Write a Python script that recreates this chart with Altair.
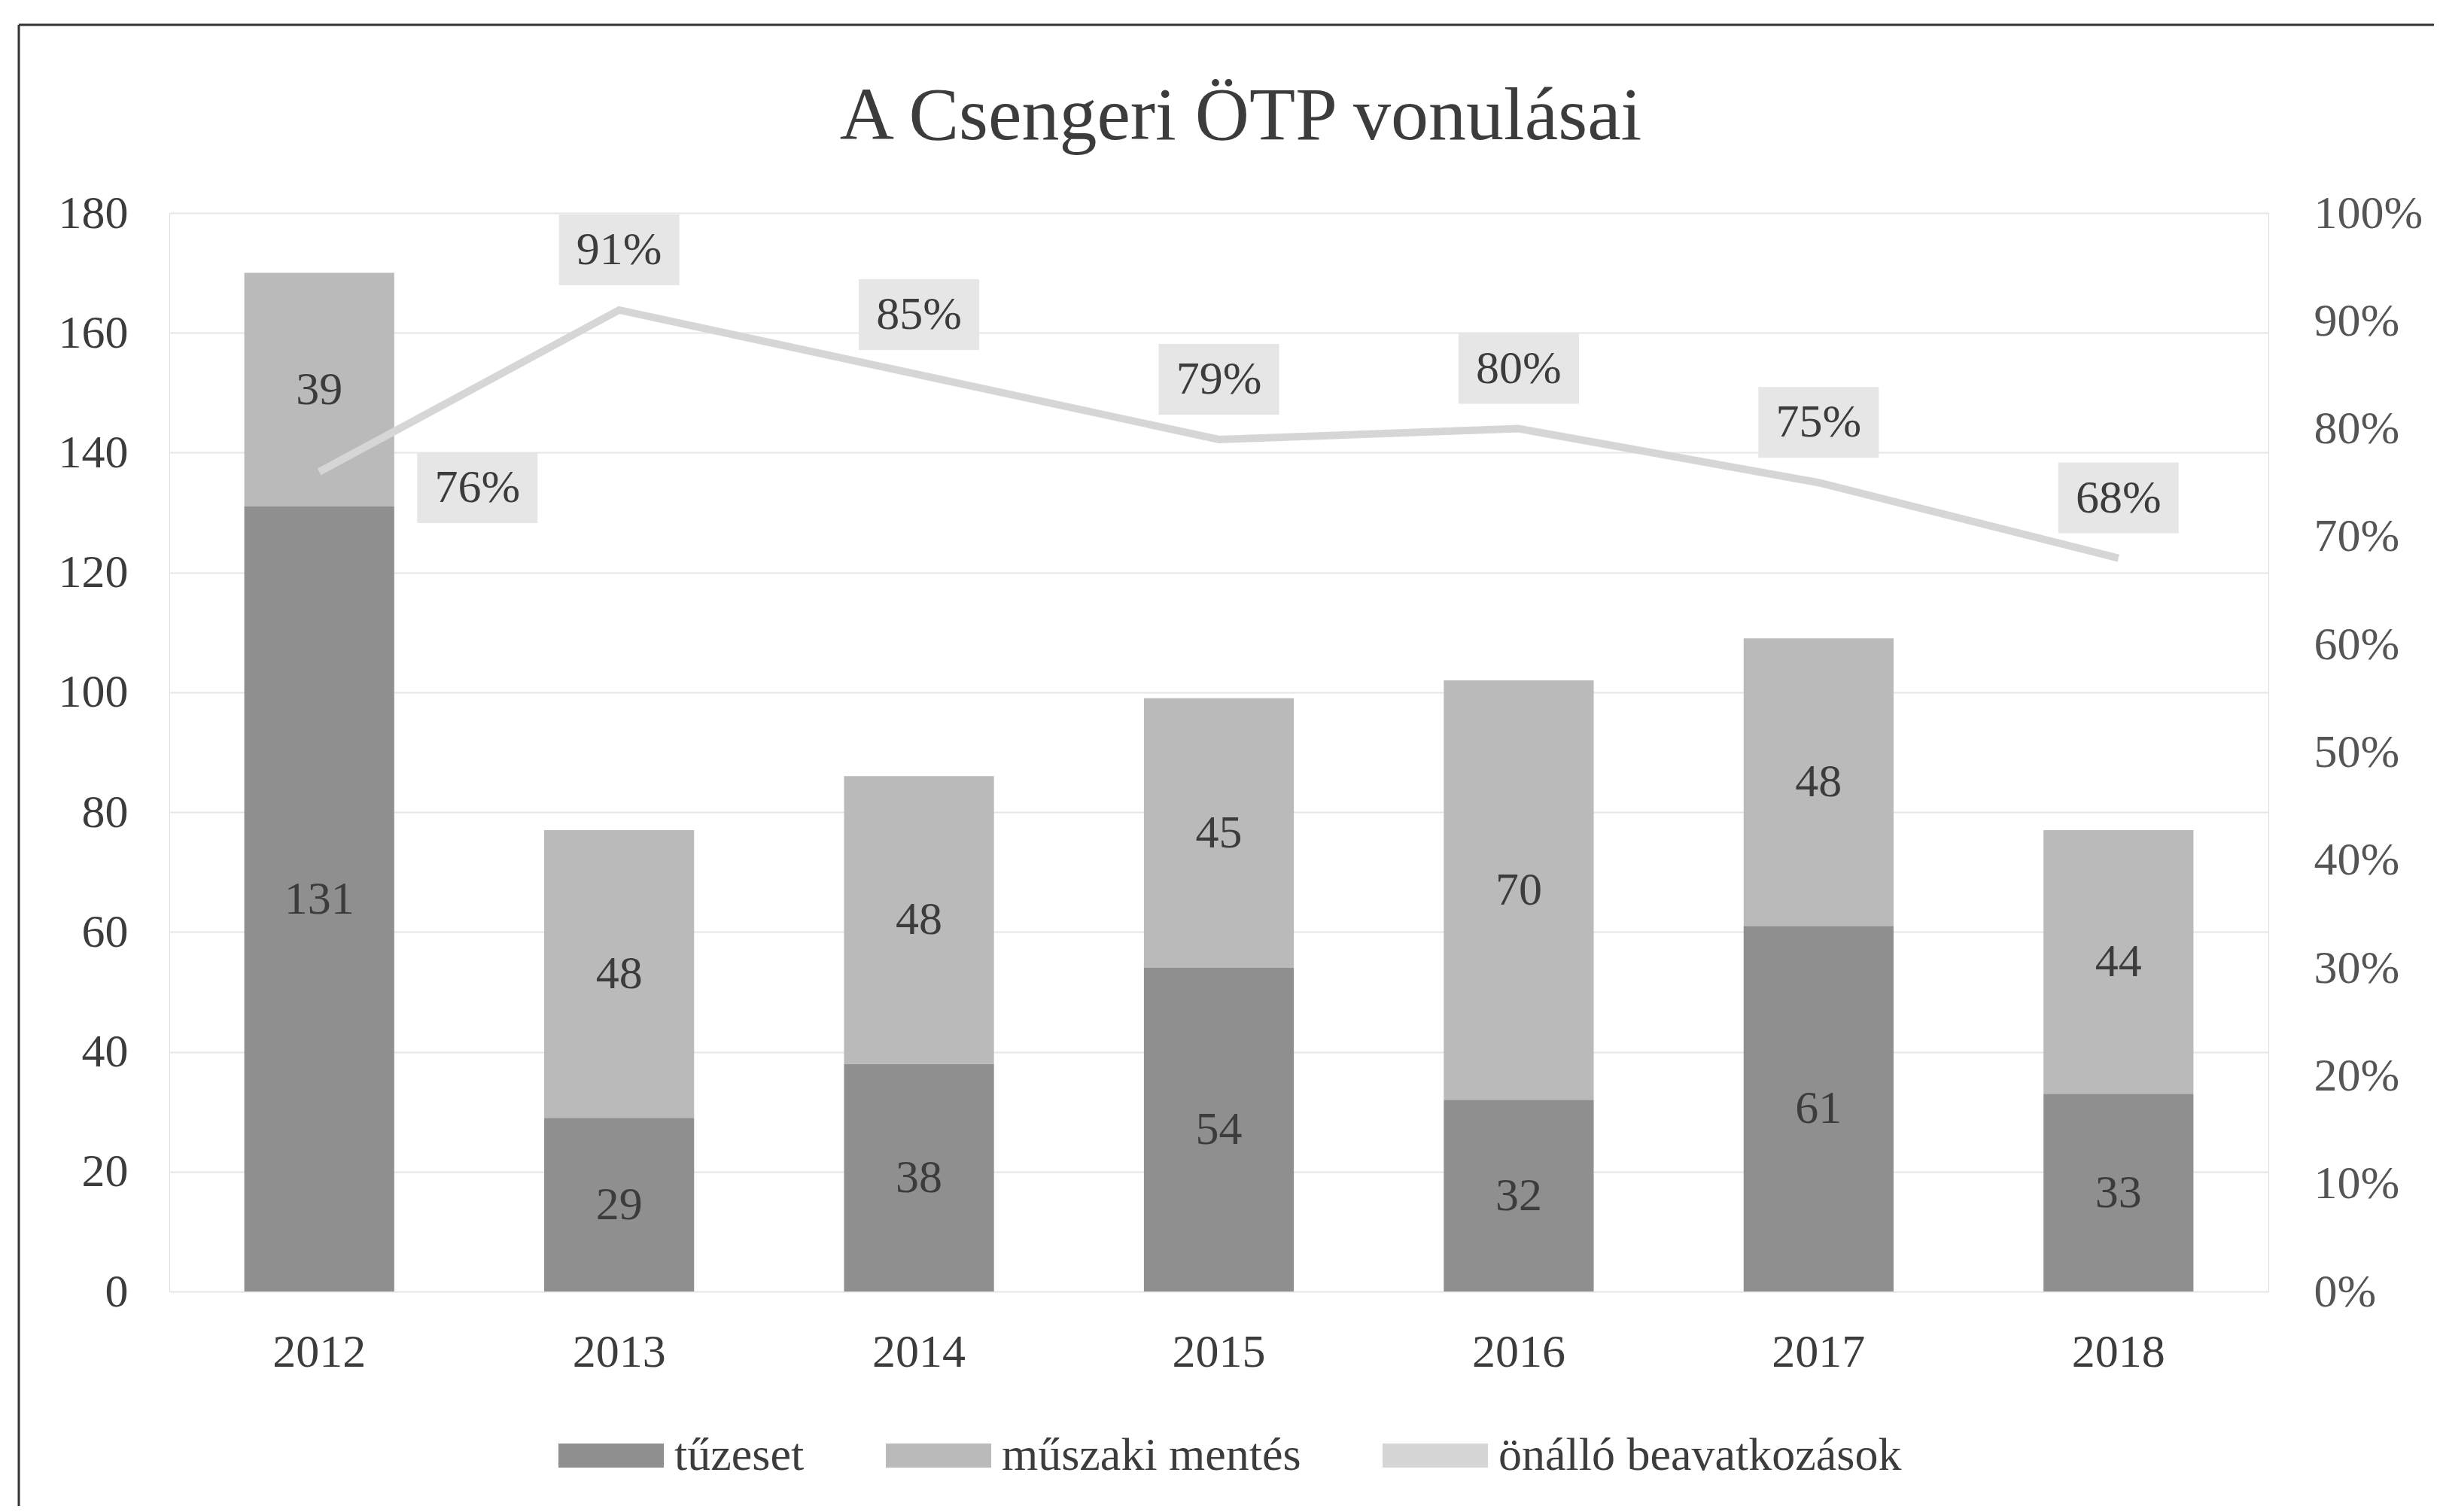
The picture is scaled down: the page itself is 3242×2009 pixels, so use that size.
import altair as alt
import pandas as pd

# ---- data ----
years = ["2012", "2013", "2014", "2015", "2016", "2017", "2018"]
tuzeset = [131, 29, 38, 54, 32, 61, 33]
muszaki = [39, 48, 48, 45, 70, 48, 44]
onallo = [0.76, 0.91, 0.85, 0.79, 0.80, 0.75, 0.68]
series = ["tűzeset", "műszaki mentés", "önálló beavatkozások"]
left_ticks = [0, 20, 40, 60, 80, 100, 120, 140, 160, 180]
right_ticks = [0.0, 0.1, 0.2, 0.3, 0.4, 0.5, 0.6, 0.7, 0.8, 0.9, 1.0]
title_text = "A Csengeri ÖTP vonulásai"

# ---- styles ----
FONT = "Liberation Serif"
colors = ["#8f8f8f", "#bababa", "#d6d6d6"]
TXT = "#3c3c3c"
BOX_UP = "M-1,-1.5875L1,-1.5875L1,-0.4125L-1,-0.4125Z"
BOX_RIGHT = "M1.625,-0.325L3.625,-0.325L3.625,0.85L1.625,0.85Z"
LEG_SYM = "M-1,-0.23L1,-0.23L1,0.23L-1,0.23Z"

rows = []
for i, yr in enumerate(years):
    rows.append({"year": yr, "series": series[0], "value": tuzeset[i], "order": 0})
    rows.append({"year": yr, "series": series[1], "value": muszaki[i], "order": 1})
bars_df = pd.DataFrame(rows)
pct_df = pd.DataFrame({"year": years, "pct": onallo})

x = alt.X(
    "year:N",
    sort=years,
    scale=alt.Scale(paddingInner=0.5, paddingOuter=0.25),
    axis=alt.Axis(title=None, labelFont=FONT, labelFontSize=62, labelColor=TXT,
                  labelPadding=50, domain=False, ticks=False, labelAngle=0),
)

base_bars = alt.Chart(bars_df).transform_stack(
    stack="value", groupby=["year"], as_=["y0", "y1"], sort=[alt.SortField("order")]
).transform_calculate(mid="(datum.y0 + datum.y1) / 2")

bars = base_bars.mark_bar().encode(
    x=x,
    y=alt.Y("y0:Q", scale=alt.Scale(domain=[0, 180]),
            axis=alt.Axis(title=None, values=left_ticks, labelFont=FONT, labelFontSize=62,
                          labelColor=TXT, labelPadding=55, domain=False, ticks=False,
                          grid=True, gridColor="#e6e6e6", gridWidth=2)),
    y2="y1:Q",
    color=alt.Color("series:N", scale=alt.Scale(domain=series, range=colors),
                    legend=alt.Legend(orient="none", legendX=517, legendY=1581,
                                      direction="horizontal", title=None,
                                      symbolType=LEG_SYM, symbolSize=19600,
                                      symbolStrokeWidth=0, labelFont=FONT,
                                      labelFontSize=62, labelColor=TXT, labelOffset=14,
                                      columnPadding=108, labelLimit=2000)),
)

bar_text = base_bars.mark_text(font=FONT, fontSize=62, color=TXT, baseline="middle").encode(
    x=x, y=alt.Y("mid:Q"), text="value:Q"
)

frame_df = pd.DataFrame({"k": [0]})
frame_top = alt.Chart(frame_df).mark_rule(color="#333333", strokeWidth=3).encode(
    x=alt.value(-200), x2=alt.value(3100), y=alt.value(-250)
)
frame_left = alt.Chart(frame_df).mark_rule(color="#333333", strokeWidth=3).encode(
    x=alt.value(-200), y=alt.value(-250), y2=alt.value(1800)
)

left = alt.layer(bars, bar_text, frame_top, frame_left)

yr = alt.Y("pct:Q", scale=alt.Scale(domain=[0, 1]),
           axis=alt.Axis(title=None, orient="right", format=".0%", values=right_ticks,
                         labelFont=FONT, labelFontSize=62, labelColor="#555555",
                         labelPadding=60, domain=False, ticks=False, grid=False))

line = alt.Chart(pct_df).mark_line(color="#d6d6d6", strokeWidth=10).encode(x=x, y=yr)

boxes_up = alt.Chart(pct_df).transform_filter("datum.year != '2012'").mark_point(
    shape=BOX_UP, size=25600, filled=True, color="#e6e6e6", opacity=1, strokeWidth=0
).encode(x=x, y="pct:Q")
boxes_right = alt.Chart(pct_df).transform_filter("datum.year == '2012'").mark_point(
    shape=BOX_RIGHT, size=25600, filled=True, color="#e6e6e6", opacity=1, strokeWidth=0
).encode(x=x, y="pct:Q")

text_up = alt.Chart(pct_df).transform_filter("datum.year != '2012'").mark_text(
    font=FONT, fontSize=62, color=TXT, baseline="middle", dy=-80
).encode(x=x, y="pct:Q", text=alt.Text("pct:Q", format=".0%"))
text_right = alt.Chart(pct_df).transform_filter("datum.year == '2012'").mark_text(
    font=FONT, fontSize=62, color=TXT, baseline="middle", dx=210, dy=21
).encode(x=x, y="pct:Q", text=alt.Text("pct:Q", format=".0%"))

right = alt.layer(line, boxes_up, boxes_right, text_up, text_right)

chart = alt.layer(left, right).resolve_scale(y="independent").properties(
    width=2789,
    height=1433,
    autosize=alt.AutoSizeParams(type="none"),
    padding={"left": 217, "top": 275, "right": 220, "bottom": 285},
    title=alt.Title(title_text, font=FONT, fontSize=100, fontWeight="normal",
                    color=TXT, anchor="middle", frame="group", baseline="alphabetic",
                    offset=-253, dx=29),
).configure_view(stroke=None).configure(background="white")

chart.save("out.html", embed_options={"renderer": "svg", "actions": False})
